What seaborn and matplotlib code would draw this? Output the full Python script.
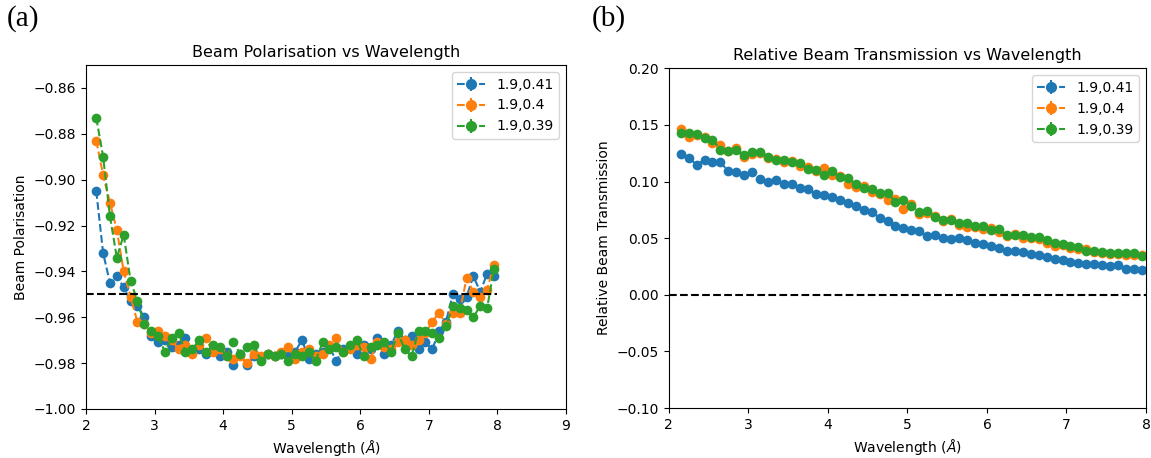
import numpy as np
import pandas as pd
import matplotlib
matplotlib.use("Agg")
import matplotlib.pyplot as plt
import seaborn as sns

# wavelength bins (Angstrom), 0.1 steps
wavelength = np.round(np.arange(2.15, 7.96, 0.1), 2)
labels = ["1.9,0.41", "1.9,0.4", "1.9,0.39"]

pol_041 = [-0.905, -0.932, -0.945, -0.942, -0.947, -0.953, -0.955, -0.960, -0.968, -0.971,
           -0.970, -0.973, -0.972, -0.969, -0.975, -0.974, -0.976, -0.974, -0.977, -0.975,
           -0.981, -0.976, -0.981, -0.977, -0.978, -0.976, -0.977, -0.976, -0.977, -0.975,
           -0.970, -0.978, -0.976, -0.975, -0.973, -0.979, -0.974, -0.973, -0.976, -0.972,
           -0.974, -0.969, -0.976, -0.972, -0.966, -0.970, -0.968, -0.974, -0.971, -0.974,
           -0.966, -0.962, -0.950, -0.952, -0.951, -0.942, -0.949, -0.941, -0.942]
pol_040 = [-0.883, -0.898, -0.910, -0.922, -0.940, -0.951, -0.962, -0.963, -0.967, -0.966,
           -0.968, -0.970, -0.974, -0.972, -0.976, -0.972, -0.969, -0.975, -0.974, -0.977,
           -0.978, -0.977, -0.980, -0.976, -0.977, -0.976, -0.977, -0.975, -0.973, -0.978,
           -0.975, -0.974, -0.977, -0.976, -0.972, -0.969, -0.975, -0.974, -0.972, -0.973,
           -0.978, -0.971, -0.973, -0.974, -0.971, -0.970, -0.972, -0.970, -0.967, -0.962,
           -0.958, -0.963, -0.958, -0.958, -0.943, -0.949, -0.951, -0.948, -0.937]
pol_039 = [-0.873, -0.890, -0.916, -0.934, -0.924, -0.944, -0.953, -0.963, -0.966, -0.968,
           -0.975, -0.969, -0.967, -0.975, -0.974, -0.970, -0.975, -0.972, -0.973, -0.977,
           -0.971, -0.976, -0.973, -0.972, -0.979, -0.976, -0.977, -0.976, -0.979, -0.976,
           -0.977, -0.975, -0.979, -0.971, -0.974, -0.973, -0.975, -0.972, -0.970, -0.977,
           -0.973, -0.972, -0.971, -0.975, -0.967, -0.974, -0.977, -0.966, -0.966, -0.967,
           -0.969, -0.964, -0.955, -0.956, -0.957, -0.960, -0.955, -0.956, -0.939]

trans_041 = [0.124, 0.121, 0.115, 0.119, 0.117, 0.117, 0.109, 0.108, 0.106, 0.108,
             0.102, 0.100, 0.101, 0.098, 0.098, 0.094, 0.093, 0.089, 0.088, 0.086,
             0.084, 0.081, 0.078, 0.075, 0.073, 0.068, 0.065, 0.061, 0.059, 0.057,
             0.056, 0.052, 0.053, 0.050, 0.049, 0.050, 0.048, 0.046, 0.045, 0.043,
             0.041, 0.039, 0.039, 0.038, 0.036, 0.035, 0.033, 0.032, 0.031, 0.029,
             0.028, 0.027, 0.027, 0.026, 0.025, 0.026, 0.023, 0.023, 0.022]
trans_040 = [0.146, 0.139, 0.141, 0.139, 0.134, 0.132, 0.127, 0.130, 0.122, 0.124,
             0.125, 0.121, 0.120, 0.117, 0.118, 0.114, 0.113, 0.109, 0.112, 0.106,
             0.105, 0.098, 0.095, 0.096, 0.091, 0.089, 0.084, 0.085, 0.076, 0.080,
             0.071, 0.072, 0.070, 0.065, 0.067, 0.062, 0.060, 0.060, 0.058, 0.059,
             0.055, 0.052, 0.054, 0.050, 0.050, 0.049, 0.046, 0.043, 0.044, 0.041,
             0.040, 0.040, 0.038, 0.037, 0.036, 0.036, 0.035, 0.035, 0.035]
trans_039 = [0.143, 0.143, 0.142, 0.138, 0.137, 0.128, 0.127, 0.128, 0.123, 0.126,
             0.126, 0.122, 0.119, 0.119, 0.117, 0.116, 0.111, 0.110, 0.106, 0.109,
             0.104, 0.103, 0.098, 0.094, 0.093, 0.090, 0.090, 0.082, 0.084, 0.078,
             0.073, 0.074, 0.069, 0.066, 0.066, 0.063, 0.063, 0.061, 0.061, 0.057,
             0.058, 0.053, 0.053, 0.053, 0.051, 0.051, 0.048, 0.046, 0.045, 0.043,
             0.042, 0.039, 0.039, 0.038, 0.037, 0.037, 0.037, 0.037, 0.034]

colors = sns.color_palette("tab10", 3)

fig = plt.figure(figsize=(11.51, 4.58), dpi=100)
ax1 = fig.add_axes([0.0747, 0.107, 0.417, 0.751])
ax2 = fig.add_axes([0.581, 0.109, 0.4147, 0.742])


def draw(ax, series):
    handles = []
    for vals, lab, c in zip(series, labels, colors):
        sns.lineplot(x=wavelength, y=vals, color=c, marker="o", linestyle="--",
                     markersize=7, markeredgewidth=0, linewidth=1.5,
                     legend=False, ax=ax)
        # empty errorbar just for the legend entry
        handles.append(ax.errorbar([], [], yerr=[], fmt="o--", color=c,
                                   markersize=7))
    ax.legend(handles, labels, loc="upper right", fontsize=10)
    ax.set_xlabel("Wavelength ($\\AA$)", fontsize=10)


draw(ax1, [pol_041, pol_040, pol_039])
ax1.hlines(-0.95, 2, 8, colors="black", linestyles="--", linewidth=1.5)
ax1.set_xlim(2, 9)
ax1.set_ylim(-1.0, -0.85)
ax1.set_yticks(np.arange(-1.0, -0.859, 0.02))
ax1.set_title("Beam Polarisation vs Wavelength", fontsize=11.5)
ax1.set_ylabel("Beam Polarisation", fontsize=10)

draw(ax2, [trans_041, trans_040, trans_039])
ax2.hlines(0.0, 2, 8, colors="black", linestyles="--", linewidth=1.5)
ax2.set_xlim(2, 8)
ax2.set_ylim(-0.1, 0.2)
ax2.set_title("Relative Beam Transmission vs Wavelength", fontsize=11.5)
ax2.set_ylabel("Relative Beam Transmission", fontsize=10)

for ax in (ax1, ax2):
    ax.tick_params(labelsize=10)

fig.text(0.006, 0.99, "(a)", family="Liberation Serif", fontsize=21, va="top")
fig.text(0.514, 0.99, "(b)", family="Liberation Serif", fontsize=21, va="top")

fig.savefig("out.png", dpi=100)
